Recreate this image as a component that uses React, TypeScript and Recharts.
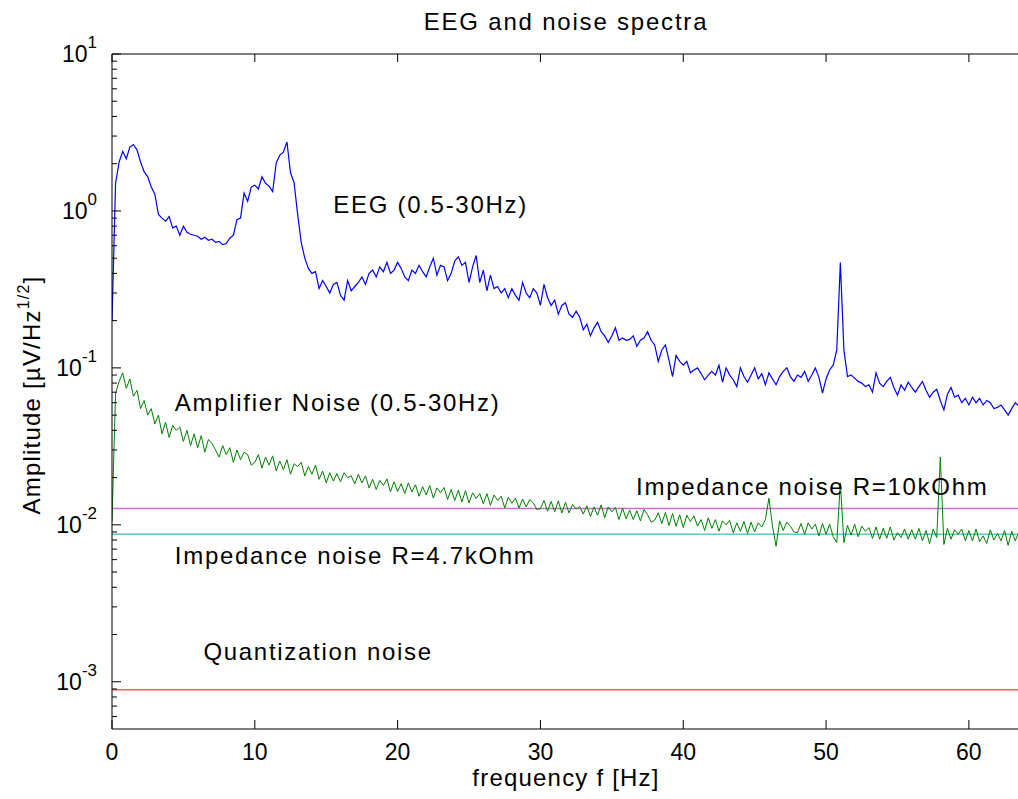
import React from 'react';
import { ComposedChart, Line, XAxis, YAxis, ReferenceLine, ReferenceDot } from 'recharts';

const FONT = '"Liberation Sans", Arial, Helvetica, sans-serif';
const STEP = 0.25; // Hz between spectrum bins

// EEG amplitude spectrum [uV/sqrt(Hz)], 0 .. 63.75 Hz, 8 bins (2 Hz) per row
const eegAmplitude = [
  0.2, 1.5, 2.05, 2.4, 2.15, 2.55, 2.65, 2.45,
  2.05, 1.78, 1.65, 1.42, 1.28, 0.95, 0.9, 0.86,
  0.92, 0.78, 0.8, 0.7, 0.8, 0.73, 0.71, 0.7,
  0.69, 0.66, 0.68, 0.65, 0.66, 0.63, 0.64, 0.61,
  0.62, 0.67, 0.7, 0.88, 0.9, 1.3, 1.15, 1.42,
  1.46, 1.38, 1.65, 1.5, 1.44, 1.33, 2.02, 2.27,
  2.37, 2.75, 1.75, 1.51, 0.95, 0.63, 0.5, 0.43,
  0.4, 0.41, 0.32, 0.36, 0.33, 0.3, 0.34, 0.35,
  0.29, 0.27, 0.36, 0.31, 0.33, 0.35, 0.38, 0.34,
  0.4, 0.42, 0.38, 0.44, 0.41, 0.47, 0.4, 0.42,
  0.47, 0.43, 0.38, 0.36, 0.42, 0.4, 0.45, 0.41,
  0.38, 0.44, 0.5, 0.39, 0.45, 0.44, 0.36, 0.4,
  0.48, 0.51, 0.45, 0.47, 0.35, 0.44, 0.52, 0.35,
  0.42, 0.31, 0.39, 0.32, 0.33, 0.3, 0.32, 0.28,
  0.32, 0.29, 0.27, 0.35, 0.3, 0.28, 0.32, 0.3,
  0.25, 0.34, 0.28, 0.25, 0.27, 0.22, 0.25, 0.26,
  0.22, 0.21, 0.23, 0.21, 0.175, 0.19, 0.16, 0.18,
  0.195, 0.17, 0.16, 0.145, 0.16, 0.18, 0.15, 0.155,
  0.15, 0.152, 0.16, 0.137, 0.15, 0.155, 0.17, 0.15,
  0.14, 0.11, 0.13, 0.14, 0.112, 0.088, 0.12, 0.11,
  0.104, 0.11, 0.093, 0.097, 0.1, 0.092, 0.084, 0.09,
  0.095, 0.09, 0.104, 0.081, 0.1, 0.09, 0.084, 0.076,
  0.1, 0.088, 0.081, 0.09, 0.1, 0.085, 0.092, 0.078,
  0.093, 0.085, 0.078, 0.088, 0.095, 0.1, 0.088, 0.082,
  0.09, 0.087, 0.095, 0.082, 0.09, 0.1, 0.087, 0.069,
  0.085, 0.097, 0.104, 0.13, 0.47, 0.13, 0.088, 0.09,
  0.086, 0.082, 0.08, 0.076, 0.078, 0.07, 0.093, 0.08,
  0.076, 0.082, 0.087, 0.075, 0.067, 0.078, 0.072, 0.081,
  0.075, 0.07, 0.076, 0.082, 0.072, 0.065, 0.07, 0.073,
  0.062, 0.054, 0.068, 0.075, 0.065, 0.067, 0.06, 0.064,
  0.058, 0.065, 0.06, 0.064, 0.058, 0.062, 0.06, 0.055,
  0.056, 0.058, 0.054, 0.05, 0.055, 0.06, 0.057, 0.055,
];

// amplifier noise spectrum, same bins
const amplifierNoise = [
  0.0105, 0.069, 0.082, 0.093, 0.074, 0.085, 0.066, 0.072,
  0.055, 0.062, 0.05, 0.055, 0.044, 0.05, 0.038, 0.045,
  0.036, 0.043, 0.04, 0.042, 0.034, 0.04, 0.032, 0.038,
  0.031, 0.037, 0.029, 0.035, 0.033, 0.03, 0.027, 0.032,
  0.028, 0.031, 0.025, 0.03, 0.026, 0.029, 0.028, 0.024,
  0.025, 0.028, 0.023, 0.027, 0.024, 0.0275, 0.022, 0.0255,
  0.0225, 0.026, 0.021, 0.0245, 0.0235, 0.025, 0.0205, 0.0235,
  0.021, 0.024, 0.0195, 0.022, 0.0185, 0.0215, 0.019, 0.0212,
  0.0188, 0.0215, 0.02, 0.0205, 0.0182, 0.021, 0.0185, 0.0205,
  0.0172, 0.0195, 0.0168, 0.0192, 0.0178, 0.0196, 0.0162, 0.0188,
  0.0163, 0.0183, 0.0158, 0.0185, 0.0162, 0.018, 0.0152, 0.0175,
  0.0155, 0.0178, 0.0148, 0.0172, 0.016, 0.0173, 0.0145, 0.0168,
  0.0143, 0.0166, 0.014, 0.0165, 0.0138, 0.016, 0.0147, 0.0158,
  0.0136, 0.0158, 0.0133, 0.0155, 0.0143, 0.0152, 0.0128, 0.015,
  0.0137, 0.0148, 0.0128, 0.0146, 0.013, 0.0145, 0.0138, 0.0125,
  0.0127, 0.0143, 0.0122, 0.0141, 0.0121, 0.0142, 0.0119, 0.0139,
  0.0119, 0.0135, 0.0126, 0.0131, 0.0117, 0.0132, 0.0113, 0.013,
  0.0115, 0.0134, 0.0111, 0.013, 0.0121, 0.0129, 0.0108, 0.0128,
  0.0109, 0.0124, 0.0108, 0.0123, 0.0106, 0.0125, 0.0116, 0.0104,
  0.0107, 0.0119, 0.0102, 0.012, 0.0099, 0.0118, 0.0098, 0.0116,
  0.0096, 0.0115, 0.0105, 0.0114, 0.0098, 0.0108, 0.0092, 0.0111,
  0.0095, 0.0108, 0.0091, 0.0106, 0.01, 0.0107, 0.0089, 0.0103,
  0.0091, 0.0105, 0.0088, 0.0104, 0.009, 0.0103, 0.0097, 0.0108,
  0.0148, 0.0098, 0.0073, 0.0106, 0.0092, 0.0104, 0.0098, 0.009,
  0.0089, 0.0102, 0.0087, 0.0103, 0.0094, 0.0101, 0.0085, 0.0102,
  0.0087, 0.0101, 0.0084, 0.0077, 0.0185, 0.0077, 0.0099, 0.0086,
  0.0101, 0.0084, 0.0098, 0.0091, 0.0096, 0.0082, 0.0097, 0.0081,
  0.0095, 0.0082, 0.0097, 0.008, 0.0089, 0.0083, 0.0094, 0.0081,
  0.0093, 0.0081, 0.0095, 0.0079, 0.0092, 0.0076, 0.0094, 0.0083,
  0.027, 0.0075, 0.0095, 0.0081, 0.0093, 0.0087, 0.0094, 0.0079,
  0.0092, 0.0079, 0.0094, 0.0078, 0.0085, 0.0076, 0.0093, 0.008,
  0.0088, 0.0079, 0.0092, 0.0074, 0.0091, 0.0079, 0.009, 0.0082,
];

const impedanceNoise10k = 0.0127;
const impedanceNoise4k7 = 0.0087;
const quantizationNoise = 0.00089;

const xTicks = [0, 10, 20, 30, 40, 50, 60];
const yTicks = [
  0.0006, 0.0007, 0.0008, 0.0009,
  0.001, 0.002, 0.003, 0.004, 0.005, 0.006, 0.007, 0.008, 0.009,
  0.01, 0.02, 0.03, 0.04, 0.05, 0.06, 0.07, 0.08, 0.09,
  0.1, 0.2, 0.3, 0.4, 0.5, 0.6, 0.7, 0.8, 0.9,
  1, 2, 3, 4, 5, 6, 7, 8, 9, 10,
];

const annotations = [
  { f: 15.5, v: 1.09, text: 'EEG (0.5-30Hz)' },
  { f: 4.4, v: 0.06, text: 'Amplifier Noise (0.5-30Hz)' },
  { f: 36.7, v: 0.0175, text: 'Impedance noise R=10kOhm' },
  { f: 4.4, v: 0.0063, text: 'Impedance noise R=4.7kOhm' },
  { f: 6.4, v: 0.00155, text: 'Quantization noise' },
];

const data = eegAmplitude.map((eeg, i) => ({ f: i * STEP, eeg, amp: amplifierNoise[i] }));

const LeftTick = (props: any) => {
  const { x, y, payload } = props;
  const lg = Math.log10(payload.value);
  const exp = Math.round(lg);
  const major = Math.abs(lg - exp) < 1e-6;
  return (
    <g>
      <line x1={x} x2={x + (major ? 9 : 5)} y1={y} y2={y} stroke="#000" strokeWidth={1} />
      {major && (
        <text x={x - 15} y={y + 8} textAnchor="end" fontSize={23} fontFamily={FONT} fill="#000">
          10<tspan dy={-14} fontSize={17}>{exp}</tspan>
        </text>
      )}
    </g>
  );
};

const BottomTick = (props: any) => {
  const { x, y, payload } = props;
  return (
    <g>
      <line x1={x} x2={x} y1={y} y2={y - 9} stroke="#000" strokeWidth={1} />
      <text x={x} y={y + 31} textAnchor="middle" fontSize={23} fontFamily={FONT} fill="#000">
        {payload.value}
      </text>
    </g>
  );
};

const TopTick = (props: any) => {
  const { x, y } = props;
  return <line x1={x} x2={x} y1={y} y2={y + 8} stroke="#000" strokeWidth={1} />;
};

export default function App() {
  return (
    <div style={{ position: 'absolute', left: 0, top: 0, width: 1018, height: 799, overflow: 'hidden', background: '#fff' }}>
      <ComposedChart width={1030} height={799} data={data} margin={{ top: 53, right: 4, bottom: 0, left: 0 }}>
        <XAxis
          xAxisId="top"
          orientation="top"
          type="number"
          dataKey="f"
          domain={[0, 64]}
          ticks={xTicks}
          interval={0}
          height={1}
          tickSize={0}
          tickMargin={0}
          tickLine={false}
          axisLine={{ stroke: '#000' }}
          tick={TopTick}
          allowDataOverflow
        />
        <XAxis
          type="number"
          dataKey="f"
          domain={[0, 64]}
          ticks={xTicks}
          interval={0}
          height={70}
          tickSize={0}
          tickMargin={0}
          tickLine={false}
          axisLine={{ stroke: '#000' }}
          tick={BottomTick}
          allowDataOverflow
        />
        <YAxis
          type="number"
          scale="log"
          domain={[0.0005, 10]}
          ticks={yTicks}
          interval={0}
          width={112}
          tickSize={0}
          tickMargin={0}
          tickLine={false}
          axisLine={{ stroke: '#000' }}
          tick={LeftTick}
          allowDataOverflow
        />
        <ReferenceLine y={impedanceNoise10k} stroke="#cf6acf" strokeWidth={1.5} />
        <ReferenceLine y={impedanceNoise4k7} stroke="#5cc8c8" strokeWidth={1.5} />
        <ReferenceLine y={quantizationNoise} stroke="#ff5c5c" strokeWidth={1.5} />
        <Line type="linear" dataKey="eeg" stroke="#0000ff" strokeWidth={1.2} dot={false} isAnimationActive={false} />
        <Line type="linear" dataKey="amp" stroke="#008000" strokeWidth={1} dot={false} isAnimationActive={false} />
        {annotations.map((a) => (
          <ReferenceDot
            key={a.text}
            x={a.f}
            y={a.v}
            r={0}
            shape={(p: any) => (
              <text x={p.cx} y={p.cy + 8} fontSize={24} letterSpacing={1.7} fontFamily={FONT} fill="#000">
                {a.text}
              </text>
            )}
          />
        ))}
      </ComposedChart>
      <svg width={1018} height={799} style={{ position: 'absolute', left: 0, top: 0, pointerEvents: 'none' }}>
        <text x={566} y={30} textAnchor="middle" fontSize={24} letterSpacing={1.8} fontFamily={FONT} fill="#000">
          EEG and noise spectra
        </text>
        <text x={566} y={786} textAnchor="middle" fontSize={24} letterSpacing={1.2} fontFamily={FONT} fill="#000">
          frequency f [Hz]
        </text>
        <text
          x={40}
          y={395}
          textAnchor="middle"
          fontSize={24}
          letterSpacing={1.2}
          fontFamily={FONT}
          fill="#000"
          transform="rotate(-90 40 395)"
        >
          Amplitude [µV/Hz<tspan dy={-11} fontSize={16}>1/2</tspan><tspan dy={11}>]</tspan>
        </text>
      </svg>
    </div>
  );
}
